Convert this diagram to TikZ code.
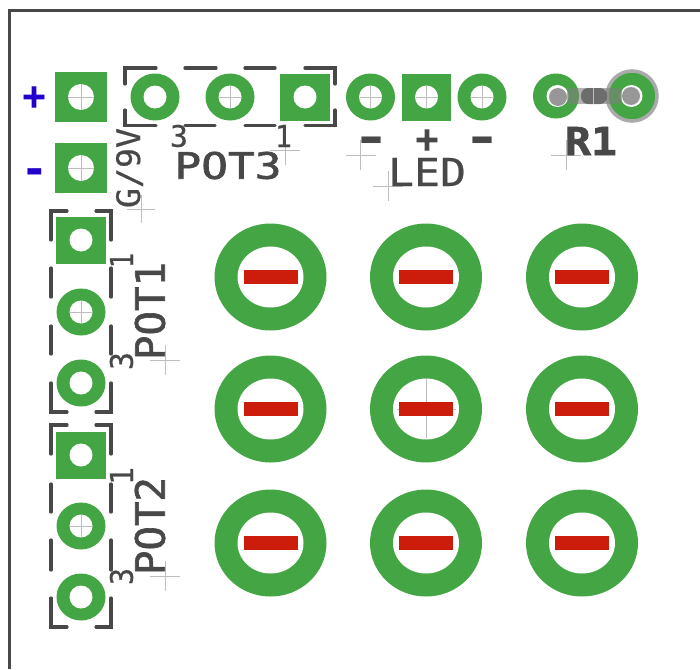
\documentclass[tikz,border=0pt]{standalone}
\usepackage{fontspec}
\usepackage{graphicx}
\newfontfamily\silkfont[FakeBold=1.6]{DejaVu Sans Mono}
\newfontfamily\silkthin[FakeBold=0.5]{DejaVu Sans Mono}
\newfontfamily\markfont{DejaVu Sans}
\newfontfamily\plusfont[FakeBold=2.5]{DejaVu Sans Bold}
\definecolor{padgreen}{HTML}{43A543}
\definecolor{silk}{HTML}{484848}
\definecolor{cutred}{HTML}{CC1C0C}
\definecolor{markblue}{HTML}{2200CC}
\definecolor{crossgray}{HTML}{BDBDBD}
\tikzset{
  padfill/.style={fill=padgreen,draw=none},
  holefill/.style={fill=white,draw=none},
  cutbar/.style={fill=cutred,draw=none},
  framein/.style={draw=silk,line width=3pt},
  dashline/.style={draw=silk,line width=3.2pt,line cap=round},
  crossline/.style={draw=crossgray,line width=0.8pt},
  silktext/.style={inner sep=0pt,outer sep=0pt,text=silk,font=\silkfont},
  silksmall/.style={inner sep=0pt,outer sep=0pt,text=silk,font=\silkthin},
  marktext/.style={inner sep=0pt,outer sep=0pt,text=markblue,font=\markfont\bfseries},
}
% round pad: x, y
\newcommand{\rpad}[2]{%
  \fill[padfill] (#1,#2) ellipse [x radius=24.5,y radius=23.5];
  \fill[holefill] (#1,#2) circle [radius=11.5];}
% square pad: x, y, half width, half height, hole radius
\newcommand{\spad}[5]{%
  \fill[padfill] (#1-#3,#2-#4) rectangle (#1+#3,#2+#4);
  \fill[holefill] (#1,#2) circle [radius=#5];}
% big pad
\newcommand{\bigpad}[2]{%
  \fill[padfill] (#1,#2) ellipse [x radius=56,y radius=53.5];
  \fill[holefill] (#1,#2) ellipse [x radius=33,y radius=30.5];}
% cross: x, y, half size
\newcommand{\hcross}[3]{\draw[crossline] (#1-#3,#2) -- (#1+#3,#2) (#1,#2-#3) -- (#1,#2+#3);}
\begin{document}
\begin{tikzpicture}[x=1pt,y=-1pt]
\useasboundingbox (0,0) rectangle (700,669);
\clip (0,0) rectangle (700,669);
\fill[white] (0,0) rectangle (700,669);
% frame
\draw[framein] (9.5,669) -- (9.5,11) -- (700,11);
% power pads
\spad{81}{97}{26}{25}{13}
\spad{81}{168}{26}{25}{13}
% POT3
\rpad{155}{97}
\rpad{230}{97}
\spad{305}{97}{25}{23.5}{11.5}
% LED
\rpad{370.5}{97}
\spad{426.5}{97}{24.5}{23.5}{11.5}
\rpad{482}{97}
% POT1
\spad{81}{240}{25}{23.5}{11.5}
\rpad{81}{312}
\rpad{81}{383}
% POT2
\spad{81}{455}{25}{23.5}{11.5}
\rpad{81}{526}
\rpad{81}{597}
% big pads
\foreach \py in {277,409,543}{
  \foreach \px in {270.5,426,582}{
    \bigpad{\px}{\py}
  }
}
% R1
\fill[padfill] (556,96) ellipse [x radius=23,y radius=22.5];
\fill[holefill] (557.5,96) circle [radius=11];
\fill[crossgray!80!black] (558,97) ellipse [x radius=9,y radius=9];
\fill[padfill] (632,96) circle [radius=24];
\draw[crossgray!90!black,line width=3.5pt] (632,96) circle [radius=25];
\fill[holefill] (631.5,96) circle [radius=11];
\fill[crossgray!80!black] (631,96) ellipse [x radius=9,y radius=9];
\fill[gray,opacity=.6] (567,88) rectangle (622,104);
\fill[silk!80!white,rounded corners=7pt] (581,88) rectangle (607,104);
% hole crosses
\hcross{81}{97}{13}
\hcross{81}{168}{13}
\hcross{230}{97}{11}
\hcross{370.5}{97}{11}
\hcross{426.5}{97}{11}
\hcross{482}{97}{11}
\hcross{81}{312}{11}
\hcross{81}{526}{11}
\draw[crossline] (593,88) -- (593,104);
\draw[crossline] (397,409) -- (456,409) (426,378) -- (426,438);
% red bars
\foreach \py in {277,409,543}{
  \foreach \px in {270.5,426,582}{
    \fill[cutbar] (\px-27,\py-7) rectangle (\px+27,\py+7);
  }
}
% origin crosses
\hcross{141}{209}{14}
\hcross{285}{150}{15}
\hcross{360.5}{155}{15}
\hcross{388}{186}{15}
\hcross{566}{155}{15}
\hcross{165}{360}{15}
\hcross{165}{576}{15}
% POT3 bracket
\draw[dashline] (125,84) -- (125,68) -- (156,68) (185,68) -- (216,68) (245,68) -- (275,68) (305,68) -- (335,68) -- (335,84);
\draw[dashline] (125,110) -- (125,125.5) -- (156,125.5) (185,125.5) -- (215,125.5) (245,125.5) -- (275,125.5) (305,125.5) -- (335,125.5) -- (335,110);
% POT1 bracket
\draw[dashline] (67,211) -- (51,211) -- (51,240) (51,268) -- (51,297) (51,326) -- (51,354) (51,383) -- (51,412) -- (67,412);
\draw[dashline] (96,211) -- (111,211) -- (111,240) (111,268) -- (111,297) (111,326) -- (111,354) (111,383) -- (111,412) -- (96,412);
% POT2 bracket
\draw[dashline] (67,425) -- (51,425) -- (51,454) (51,484) -- (51,512) (51,540) -- (51,570) (51,598) -- (51,627) -- (67,627);
\draw[dashline] (96,425) -- (111,425) -- (111,454) (111,484) -- (111,512) (111,540) -- (111,570) (111,598) -- (111,627) -- (96,627);
% silkscreen text
\node[silktext] (pot3) at (228,165.5) {\resizebox{107pt}{27pt}{POT3}};
\node[silksmall] (pot3a) at (179,136) {\resizebox{18pt}{22pt}{3}};
\node[silksmall] (pot3b) at (283.5,136) {\resizebox{17pt}{22pt}{1}};
\node[silksmall,rotate=90] (gnv) at (129.5,168) {\resizebox{80pt}{24pt}{G/9V}};
\node[silktext,rotate=90] (pot1) at (150,311) {\resizebox{98pt}{30pt}{POT1}};
\node[silksmall,rotate=90] (pot1a) at (121.5,260.5) {\resizebox{15pt}{23pt}{1}};
\node[silksmall,rotate=90] (pot1b) at (121.5,361) {\resizebox{18pt}{23pt}{3}};
\node[silktext,rotate=90] (pot2) at (150,526) {\resizebox{98pt}{30pt}{POT2}};
\node[silksmall,rotate=90] (pot2a) at (121.5,476) {\resizebox{18pt}{23pt}{1}};
\node[silksmall,rotate=90] (pot2b) at (121.5,576.5) {\resizebox{17pt}{23pt}{3}};
\node[silksmall] (led) at (427,172) {\resizebox{78pt}{28pt}{LED}};
\node[silktext,font=\silkfont\bfseries] (rone) at (591,141) {\resizebox{52pt}{28pt}{R1}};
\node[silktext,font=\markfont\bfseries] (ledm1) at (371.5,145.5) {\resizebox{26pt}{16.5pt}{-}};
\node[silktext,font=\plusfont] (ledp) at (427,140) {\resizebox{27pt}{!}{+}};
\node[silktext,font=\markfont\bfseries] (ledm2) at (482,145.5) {\resizebox{26pt}{16.5pt}{-}};
% polarity marks
\node[marktext,font=\plusfont] (plus) at (34,97) {\resizebox{27pt}{!}{+}};
\node[marktext] (minus) at (34.5,177) {\resizebox{18.6pt}{15.8pt}{-}};
\end{tikzpicture}
\end{document}
